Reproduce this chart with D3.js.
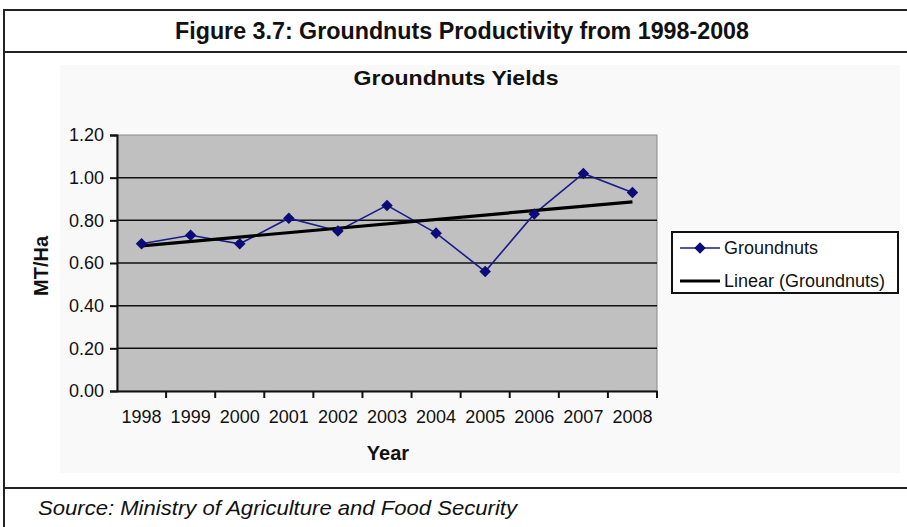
<!DOCTYPE html>
<html>
<head>
<meta charset="utf-8">
<script src="https://cdn.jsdelivr.net/npm/d3@7"></script>
<style>
  html, body { margin: 0; padding: 0; background: #fff; }
  svg { display: block; }
</style>
</head>
<body>
<svg id="chart" width="907" height="527"></svg>
<script>
// Groundnut yields (MT/Ha), 1998-2008
const years = ["1998", "1999", "2000", "2001", "2002", "2003", "2004", "2005", "2006", "2007", "2008"];
const yields = [0.69, 0.73, 0.69, 0.81, 0.75, 0.87, 0.74, 0.56, 0.83, 1.02, 0.93];
const yTicks = [0, 0.2, 0.4, 0.6, 0.8, 1.0, 1.2];
const seriesName = "Groundnuts";
const trendName = "Linear (Groundnuts)";

const svg = d3.select("#chart");
const W = 907, H = 527;
const SANS = "'Liberation Sans', Arial, sans-serif";
const NARROW = "'Liberation Sans Narrow', 'Liberation Sans', Arial, sans-serif";

// Figure frame
const frame = svg.append("g").attr("stroke", "#222").attr("stroke-width", 2);
frame.append("line").attr("x1", 4).attr("x2", W).attr("y1", 10).attr("y2", 10);
frame.append("line").attr("x1", 4).attr("x2", W).attr("y1", 52).attr("y2", 52);
frame.append("line").attr("x1", 4).attr("x2", W).attr("y1", 488).attr("y2", 488);
frame.append("line").attr("x1", 4).attr("x2", 4).attr("y1", 9).attr("y2", H);

svg.append("text")
  .attr("x", 462).attr("y", 39)
  .attr("text-anchor", "middle")
  .attr("font-family", NARROW)
  .attr("font-weight", "bold")
  .attr("font-size", 23)
  .attr("textLength", 574).attr("lengthAdjust", "spacingAndGlyphs")
  .attr("fill", "#111")
  .text("Figure 3.7: Groundnuts Productivity from 1998-2008");

svg.append("text")
  .attr("x", 38).attr("y", 515)
  .attr("font-family", NARROW)
  .attr("font-style", "italic")
  .attr("font-size", 21)
  .attr("textLength", 479).attr("lengthAdjust", "spacingAndGlyphs")
  .attr("fill", "#111")
  .text("Source: Ministry of Agriculture and Food Security");

// Chart area background
svg.append("rect")
  .attr("x", 60).attr("y", 65).attr("width", 840).attr("height", 408)
  .attr("fill", "#f9f9f9");

svg.append("text")
  .attr("x", 456).attr("y", 85)
  .attr("text-anchor", "middle")
  .attr("font-family", SANS)
  .attr("font-weight", "bold")
  .attr("font-size", 21)
  .attr("textLength", 205).attr("lengthAdjust", "spacingAndGlyphs")
  .attr("fill", "#111")
  .text("Groundnuts Yields");

// Plot area
const plot = { left: 117, right: 657, top: 135, bottom: 391 };

const x = d3.scaleBand().domain(years).range([plot.left, plot.right]).paddingInner(0).paddingOuter(0);
const y = d3.scaleLinear().domain([0, 1.2]).range([plot.bottom, plot.top]);

svg.append("rect")
  .attr("x", plot.left).attr("y", plot.top)
  .attr("width", plot.right - plot.left).attr("height", plot.bottom - plot.top)
  .attr("fill", "#c0c0c0")
  .attr("stroke", "#8a8a8a").attr("stroke-width", 1);

// Horizontal gridlines
svg.append("g")
  .selectAll("line")
  .data(yTicks.filter(d => d > 0 && d < 1.2))
  .join("line")
  .attr("x1", plot.left).attr("x2", plot.right)
  .attr("y1", d => y(d)).attr("y2", d => y(d))
  .attr("stroke", "#111").attr("stroke-width", 1.5);

// Y axis
const yAxis = svg.append("g")
  .attr("transform", `translate(${plot.left},0)`)
  .call(d3.axisLeft(y).tickValues(yTicks).tickFormat(d3.format(".2f")).tickSize(7).tickPadding(6));
yAxis.select(".domain").attr("stroke", "#111").attr("stroke-width", 2);
yAxis.selectAll(".tick line").attr("stroke", "#111").attr("stroke-width", 2);
yAxis.selectAll(".tick text")
  .attr("font-family", SANS)
  .attr("font-size", 18).attr("fill", "#111");

// X axis with ticks on category boundaries
const xAxis = svg.append("g")
  .attr("transform", `translate(0,${plot.bottom})`)
  .call(d3.axisBottom(x).tickSize(0).tickPadding(19));
xAxis.select(".domain").attr("stroke", "#111").attr("stroke-width", 2);
xAxis.selectAll(".tick text")
  .attr("font-family", SANS)
  .attr("font-size", 18).attr("fill", "#111");
xAxis.append("g")
  .selectAll("line")
  .data(years.slice(1).concat(["__end"]))
  .join("line")
  .attr("x1", (d, i) => i < years.length - 1 ? x(d) : plot.right)
  .attr("x2", (d, i) => i < years.length - 1 ? x(d) : plot.right)
  .attr("y1", 0).attr("y2", 7)
  .attr("stroke", "#111").attr("stroke-width", 2);

// Axis titles
svg.append("text")
  .attr("x", 388).attr("y", 460)
  .attr("text-anchor", "middle")
  .attr("font-family", SANS)
  .attr("font-weight", "bold").attr("font-size", 20)
  .attr("fill", "#111")
  .text("Year");

svg.append("text")
  .attr("transform", "translate(48,266) rotate(-90)")
  .attr("text-anchor", "middle")
  .attr("font-family", SANS)
  .attr("font-weight", "bold").attr("font-size", 20)
  .attr("fill", "#111")
  .text("MT/Ha");

// Data points
const cx = d => x(d) + x.bandwidth() / 2;
const pts = years.map((yr, i) => ({ yr, v: yields[i], i }));

// Least-squares linear trend
const n = yields.length;
const xs = d3.range(1, n + 1);
const mx = d3.mean(xs), my = d3.mean(yields);
const slope = d3.sum(xs, (xi, i) => (xi - mx) * (yields[i] - my)) / d3.sum(xs, xi => (xi - mx) ** 2);
const intercept = my - slope * mx;
const trendAt = xi => intercept + slope * xi;

// Series line
svg.append("path")
  .datum(pts)
  .attr("fill", "none")
  .attr("stroke", "#1a1a8c").attr("stroke-width", 1.6)
  .attr("d", d3.line().x(d => cx(d.yr)).y(d => y(d.v)));

// Trend line
svg.append("line")
  .attr("x1", cx(years[0])).attr("y1", y(trendAt(1)))
  .attr("x2", cx(years[n - 1])).attr("y2", y(trendAt(n)))
  .attr("stroke", "#000").attr("stroke-width", 3.2);

// Diamond markers
const diamond = d3.symbol().type(d3.symbolDiamond2).size(85);
svg.append("g")
  .selectAll("path")
  .data(pts)
  .join("path")
  .attr("transform", d => `translate(${cx(d.yr)},${y(d.v)})`)
  .attr("d", diamond)
  .attr("fill", "#0c0c78");

// Legend
const lg = svg.append("g");
lg.append("rect")
  .attr("x", 672).attr("y", 232).attr("width", 226).attr("height", 61)
  .attr("fill", "#fff").attr("stroke", "#111").attr("stroke-width", 2);
lg.append("line")
  .attr("x1", 680).attr("x2", 720).attr("y1", 248).attr("y2", 248)
  .attr("stroke", "#1a1a8c").attr("stroke-width", 1.6);
lg.append("path")
  .attr("transform", "translate(700,248)")
  .attr("d", diamond).attr("fill", "#0c0c78");
lg.append("line")
  .attr("x1", 680).attr("x2", 720).attr("y1", 281).attr("y2", 281)
  .attr("stroke", "#000").attr("stroke-width", 3.2);
lg.append("text")
  .attr("x", 724).attr("y", 254)
  .attr("font-family", SANS)
  .attr("font-size", 18).attr("fill", "#111")
  .text(seriesName);
lg.append("text")
  .attr("x", 724).attr("y", 287)
  .attr("font-family", SANS)
  .attr("font-size", 18).attr("fill", "#111")
  .text(trendName);
</script>
</body>
</html>
